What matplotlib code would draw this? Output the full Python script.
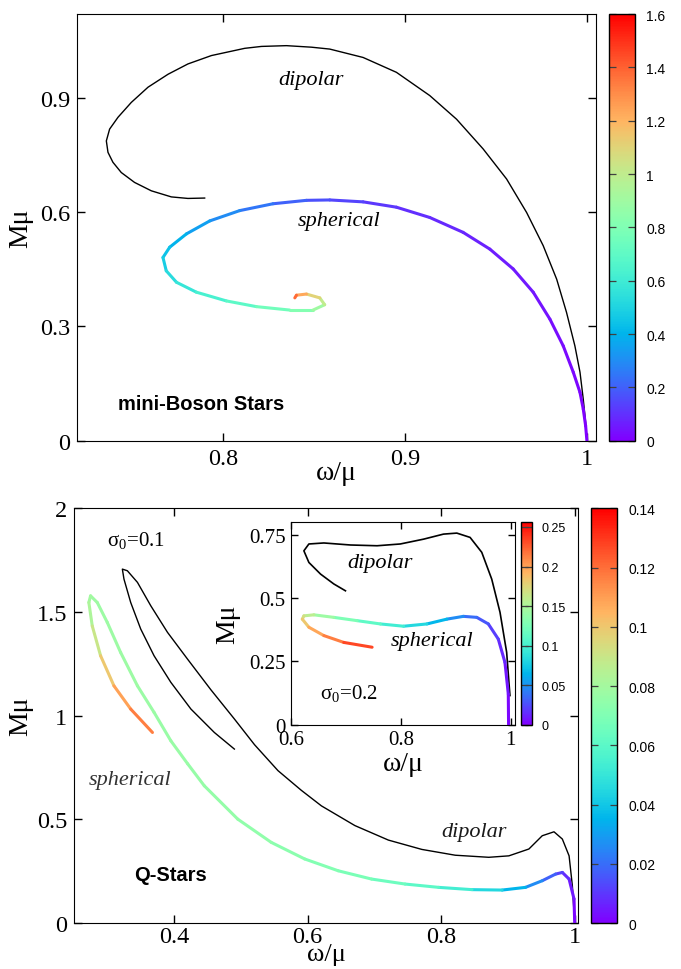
# hmotnost M*mu proti frekvenci omega/mu - mini-bosonove hvezdy a Q-hvezdy

import numpy as np
import matplotlib.pyplot as plt
from matplotlib.collections import LineCollection
from matplotlib.colors import Normalize
from matplotlib.cm import ScalarMappable
from matplotlib.ticker import FormatStrFormatter

plt.rcParams['font.family'] = ['Liberation Serif', 'DejaVu Serif']
plt.rcParams['mathtext.fontset'] = 'custom'
plt.rcParams['mathtext.rm'] = 'Liberation Serif'
plt.rcParams['mathtext.it'] = 'Liberation Serif:italic'

# --- horni panel: mini-boson stars ---
mb_dip_x = [1.0, 0.9993, 0.998, 0.9962, 0.9934, 0.9888, 0.9834, 0.976, 0.9669, 0.9559,
            0.943, 0.9284, 0.9137, 0.8954, 0.8771, 0.8588, 0.8487, 0.835, 0.8213,
            0.8121, 0.7938, 0.7809, 0.77, 0.759, 0.7498, 0.7425, 0.7379, 0.7361,
            0.737, 0.7397, 0.7443, 0.7516, 0.7608, 0.7718, 0.7809, 0.7901]
mb_dip_y = [0.0, 0.048, 0.109, 0.18, 0.249, 0.337, 0.424, 0.512, 0.599, 0.687,
            0.766, 0.844, 0.906, 0.967, 1.006, 1.028, 1.033, 1.037, 1.035,
            1.03, 1.011, 0.989, 0.962, 0.928, 0.888, 0.849, 0.818, 0.787,
            0.757, 0.731, 0.704, 0.678, 0.656, 0.64, 0.636, 0.637]

mb_sph_x = [1.0, 0.9993, 0.998, 0.9962, 0.9925, 0.987, 0.9797, 0.9705, 0.9595, 0.9467,
            0.932, 0.9137, 0.8954, 0.8771, 0.8588, 0.846, 0.8276, 0.8093, 0.7929,
            0.7801, 0.7709, 0.7672, 0.769, 0.7746, 0.7855, 0.802, 0.8185, 0.8368,
            0.8496, 0.856, 0.8533, 0.846, 0.8405, 0.8396]
mb_sph_y = [0.0, 0.039, 0.083, 0.127, 0.18, 0.249, 0.319, 0.39, 0.451, 0.503,
            0.547, 0.586, 0.613, 0.627, 0.632, 0.631, 0.622, 0.604, 0.577,
            0.543, 0.508, 0.481, 0.446, 0.416, 0.39, 0.367, 0.352, 0.343,
            0.343, 0.357, 0.375, 0.385, 0.382, 0.375]
mb_sph_c = [0.0, 0.004, 0.008, 0.012, 0.018, 0.025, 0.035, 0.045, 0.055, 0.065,
            0.075, 0.09, 0.105, 0.125, 0.15, 0.18, 0.22, 0.27, 0.32,
            0.37, 0.42, 0.46, 0.5, 0.55, 0.6, 0.66, 0.72, 0.78,
            0.85, 0.95, 1.05, 1.15, 1.3, 1.45]

# --- dolni panel: Q-stars, sigma0 = 0.1 ---
q_dip_x = [1.0, 0.9965, 0.9916, 0.9815, 0.969, 0.9514, 0.9314, 0.9014, 0.8713, 0.8211,
           0.771, 0.7209, 0.6707, 0.6206, 0.5905, 0.5555, 0.5204, 0.49, 0.455,
           0.42, 0.39, 0.365, 0.345, 0.3299, 0.3224, 0.3248, 0.3349,
           0.3499, 0.3699, 0.395, 0.4251, 0.4602, 0.4902]
q_dip_y = [0.0, 0.18, 0.324, 0.405, 0.44, 0.421, 0.357, 0.324, 0.317, 0.327,
           0.355, 0.40, 0.47, 0.565, 0.64, 0.735, 0.86, 0.985, 1.125,
           1.273, 1.402, 1.53, 1.643, 1.699, 1.707, 1.659, 1.546,
           1.418, 1.289, 1.161, 1.032, 0.919, 0.839]

q_sph_x = [1.0, 0.999, 0.9916, 0.9815, 0.9714, 0.9514, 0.9263, 0.8913, 0.8462, 0.7961,
           0.7459, 0.6958, 0.6457, 0.5955, 0.5454, 0.4953, 0.4451, 0.4202, 0.395,
           0.3699, 0.345, 0.3198, 0.2998, 0.2848, 0.2748, 0.2722, 0.2773, 0.2898,
           0.3098, 0.3349, 0.3675]
q_sph_y = [0.0, 0.116, 0.212, 0.244, 0.236, 0.204, 0.172, 0.159, 0.161, 0.172,
           0.188, 0.212, 0.252, 0.309, 0.389, 0.501, 0.662, 0.768, 0.879,
           1.016, 1.144, 1.305, 1.45, 1.546, 1.578, 1.546, 1.433, 1.289,
           1.144, 1.032, 0.919]
q_sph_c = [0.0, 0.003, 0.006, 0.01, 0.014, 0.022, 0.03, 0.04, 0.05, 0.058,
           0.063, 0.067, 0.07, 0.072, 0.074, 0.075, 0.076, 0.077, 0.077,
           0.077, 0.078, 0.078, 0.078, 0.078, 0.079, 0.08, 0.085, 0.095,
           0.105, 0.113, 0.12]

# --- vlozeny graf: Q-stars, sigma0 = 0.2 ---
in_dip_x = [0.9987, 0.9927, 0.9806, 0.9655, 0.9473, 0.926, 0.9018, 0.8775, 0.8411, 0.7987,
            0.7564, 0.7078, 0.6593, 0.632, 0.6229, 0.632, 0.6533, 0.6775, 0.6987]
in_dip_y = [0.115, 0.286, 0.444, 0.575, 0.681, 0.74, 0.757, 0.753, 0.733, 0.714,
            0.707, 0.71, 0.718, 0.714, 0.687, 0.641, 0.595, 0.556, 0.529]

in_sph_x = [0.9962, 0.9957, 0.9896, 0.9775, 0.9593, 0.9382, 0.9138, 0.8836, 0.8473, 0.8047,
            0.7624, 0.72, 0.6775, 0.6411, 0.6229, 0.62, 0.632, 0.6593, 0.6956, 0.7473]
in_sph_y = [0.0, 0.121, 0.246, 0.338, 0.398, 0.424, 0.428, 0.417, 0.398, 0.389,
            0.398, 0.411, 0.424, 0.434, 0.43, 0.417, 0.385, 0.352, 0.325, 0.306]
in_sph_c = [0.0, 0.004, 0.01, 0.016, 0.024, 0.032, 0.04, 0.055, 0.075, 0.09,
            0.105, 0.118, 0.135, 0.15, 0.165, 0.175, 0.19, 0.205, 0.222, 0.243]

SANS = 'Liberation Sans'


def barevna(ax, x, y, c, norm, lw=2.2):
    # cara obarvena podle hodnoty c (prumer na segment)
    body = np.column_stack([x, y])
    seg = np.stack([body[:-1], body[1:]], axis=1)
    cc = (np.array(c[:-1]) + np.array(c[1:])) / 2
    lc = LineCollection(seg, cmap='rainbow', norm=norm, linewidths=lw,
                        capstyle='round', joinstyle='round')
    lc.set_array(cc)
    ax.add_collection(lc)


def barva_osa(rect, norm, ticks, fs, pad):
    cax = fig.add_axes(rect)
    cb = fig.colorbar(ScalarMappable(norm=norm, cmap='rainbow'), cax=cax,
                      ticks=ticks, format=FormatStrFormatter('%g'))
    cb.outline.set_linewidth(1.0)
    cax.tick_params(direction='in', left=True, right=True, length=5, width=0.9,
                    color='0.25', labelsize=fs, pad=pad, labelfontfamily=SANS)
    return cb


fig = plt.figure(figsize=(6.81, 9.70), dpi=100)

# horni panel
ax1 = fig.add_axes([0.1131, 0.5446, 0.7621, 0.4399])
ax1.plot(mb_dip_x, mb_dip_y, color='black', lw=1.0, solid_joinstyle='round')
norm1 = Normalize(0, 1.6)
barevna(ax1, mb_sph_x, mb_sph_y, mb_sph_c, norm1)
ax1.set_xlim(0.72, 1.005)
ax1.set_ylim(0, 1.12)
ax1.set_xticks([0.8, 0.9, 1.0])
ax1.set_yticks([0, 0.3, 0.6, 0.9])
ax1.xaxis.set_major_formatter(FormatStrFormatter('%g'))
ax1.yaxis.set_major_formatter(FormatStrFormatter('%g'))
ax1.tick_params(direction='in', top=True, right=True, length=6, width=1,
                labelsize=17.5, pad=5)
ax1.set_xlabel('ω/μ', fontsize=20)
ax1.set_ylabel('Mμ', fontsize=20)
ax1.xaxis.set_label_coords(0.5, -0.045)
ax1.yaxis.set_label_coords(-0.085, 0.5)
ax1.text(0.8486, 0.949, 'dipolar', style='italic', fontsize=16, ha='center', va='center')
ax1.text(0.864, 0.577, 'spherical', style='italic', fontsize=16, ha='center', va='center')
ax1.text(0.788, 0.099, 'mini-Boson Stars', family=SANS, weight='bold', fontsize=14.5,
         ha='center', va='center')
barva_osa([0.8943, 0.5446, 0.0382, 0.4399], norm1,
          [0, 0.2, 0.4, 0.6, 0.8, 1.0, 1.2, 1.4, 1.6], 10, 8)

# dolni panel
ax2 = fig.add_axes([0.1087, 0.0474, 0.7401, 0.4275])
ax2.plot(q_dip_x, q_dip_y, color='black', lw=1.0, solid_joinstyle='round')
norm2 = Normalize(0, 0.14)
barevna(ax2, q_sph_x, q_sph_y, q_sph_c, norm2)
ax2.set_xlim(0.25, 1.005)
ax2.set_ylim(0, 2)
ax2.set_xticks([0.4, 0.6, 0.8, 1.0])
ax2.set_yticks([0, 0.5, 1, 1.5, 2])
ax2.xaxis.set_major_formatter(FormatStrFormatter('%g'))
ax2.yaxis.set_major_formatter(FormatStrFormatter('%g'))
ax2.tick_params(direction='in', top=True, right=True, length=6, width=1,
                labelsize=17.5, pad=5)
ax2.tick_params(axis='x', pad=2)
ax2.set_xlabel('ω/μ', fontsize=19)
ax2.set_ylabel('Mμ', fontsize=20)
ax2.xaxis.set_label_coords(0.5, -0.049)
ax2.yaxis.set_label_coords(-0.081, 0.5)
ax2.text(0.300, 1.851, 'σ$_0$=0.1', fontsize=15, ha='left', va='center')
ax2.text(0.3334, 0.694, 'spherical', style='italic', fontsize=16, color='0.2',
         ha='center', va='center')
ax2.text(0.849, 0.44, 'dipolar', style='italic', fontsize=16, color='0.1',
         ha='center', va='center')
ax2.text(0.395, 0.236, 'Q-Stars', family=SANS, weight='bold', fontsize=14.5,
         ha='center', va='center')
barva_osa([0.8678, 0.0474, 0.0382, 0.4275], norm2,
          [0, 0.02, 0.04, 0.06, 0.08, 0.1, 0.12, 0.14], 10, 8)

# vlozeny graf
ax3 = fig.add_axes([0.4278, 0.2519, 0.3285, 0.2087])
ax3.plot(in_dip_x, in_dip_y, color='black', lw=1.2, solid_joinstyle='round')
norm3 = Normalize(0, 0.256)
barevna(ax3, in_sph_x, in_sph_y, in_sph_c, norm3)
ax3.set_xlim(0.6, 1.008)
ax3.set_ylim(0, 0.8)
ax3.set_xticks([0.6, 0.8, 1.0])
ax3.set_yticks([0, 0.25, 0.5, 0.75])
ax3.xaxis.set_major_formatter(FormatStrFormatter('%g'))
ax3.yaxis.set_major_formatter(FormatStrFormatter('%g'))
ax3.tick_params(direction='in', top=True, right=True, length=5, width=1,
                labelsize=15, pad=4)
ax3.set_xlabel('ω/μ', fontsize=20)
ax3.set_ylabel('Mμ', fontsize=20)
ax3.xaxis.set_label_coords(0.5, -0.13)
ax3.yaxis.set_label_coords(-0.229, 0.5)
ax3.text(0.761, 0.641, 'dipolar', style='italic', fontsize=16, ha='center', va='center')
ax3.text(0.8558, 0.332, 'spherical', style='italic', fontsize=16, ha='center', va='center')
ax3.text(0.652, 0.128, 'σ$_0$=0.2', fontsize=15, ha='left', va='center')
barva_osa([0.765, 0.2519, 0.0162, 0.2087], norm3,
          [0, 0.05, 0.1, 0.15, 0.2, 0.25], 9, 7)

fig.savefig('out.png', dpi=100)
